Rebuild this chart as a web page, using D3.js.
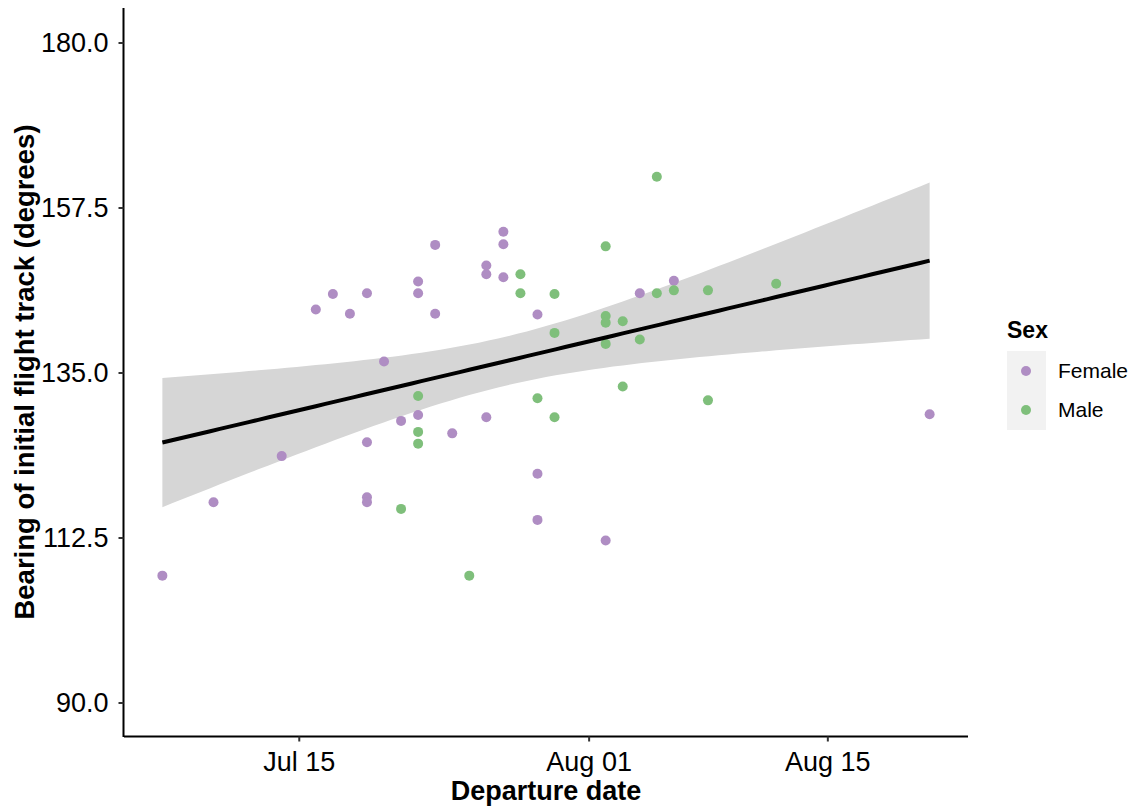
<!DOCTYPE html>
<html>
<head>
<meta charset="utf-8">
<script src="https://cdn.jsdelivr.net/npm/d3@7"></script>
<style>
	body { margin: 0; background: #fff; }
	text { font-family: "Liberation Sans", Arial, sans-serif; }
</style>
</head>
<body>
<div id="main"></div>
<script>
// departure dates and bearings
var femaleDates = ["07-07", "07-10", "07-14", "07-16", "07-17", "07-18", "07-19", "07-19", "07-19", "07-19",
	"07-20", "07-21", "07-22", "07-22", "07-22", "07-23", "07-23", "07-24", "07-26", "07-26", "07-26",
	"07-27", "07-27", "07-27", "07-29", "07-29", "07-29", "08-02", "08-04", "08-06", "08-21"]
var femaleBearing = [107.3, 117.3, 123.6, 143.6, 145.7, 143.0, 145.8, 125.5, 118.0, 117.3,
	136.5, 128.4, 147.4, 145.8, 129.2, 152.4, 143.0, 126.7, 149.6, 148.4, 128.9,
	154.2, 152.5, 148.0, 142.9, 121.2, 114.9, 112.1, 145.8, 147.5, 129.3]
var maleDates = ["07-21", "07-22", "07-22", "07-22", "07-25", "07-28", "07-28", "07-29", "07-30", "07-30",
	"07-30", "08-02", "08-02", "08-02", "08-02", "08-03", "08-03", "08-04", "08-05", "08-05",
	"08-06", "08-08", "08-08", "08-12"]
var maleBearing = [116.4, 131.8, 126.9, 125.3, 107.3, 148.4, 145.8, 131.5, 145.7, 140.4,
	128.9, 152.2, 142.7, 141.8, 138.9, 142.0, 133.1, 139.5, 161.7, 145.8,
	146.2, 146.2, 131.2, 147.1]
var sexes = ["Female", "Male"]
var sexColors = ["#AF8DC3", "#7FBF7B"]
var xTicks = ["07-15", "08-01", "08-15"]
var yTicks = [90, 112.5, 135, 157.5, 180]

var parseDate = d3.timeParse("%Y-%m-%d")
function toDate(s) { return parseDate("2019-" + s) }

var points = []
for (var i = 0; i < femaleDates.length; i++) {
	points.push({ date: toDate(femaleDates[i]), val: femaleBearing[i], sex: "Female" })
}
for (var i = 0; i < maleDates.length; i++) {
	points.push({ date: toDate(maleDates[i]), val: maleBearing[i], sex: "Male" })
}

var width = 1136, height = 808
var svg = d3.select("#main").append("svg")
	.attr("width", width)
	.attr("height", height)

var DAY = 86400000
var ext = d3.extent(points, function (d) { return d.date })
var pad = (ext[1] - ext[0]) * 0.05
var x = d3.scaleTime()
	.domain([new Date(+ext[0] - pad), new Date(+ext[1] + pad)])
	.range([124, 968])
var y = d3.scaleLinear()
	.domain([85.5, 184.5])
	.range([735.5, 9.5])
var color = d3.scaleOrdinal().domain(sexes).range(sexColors)

// linear fit with 95% confidence band (like geom_smooth(method = "lm"))
var xs = points.map(function (d) { return (d.date - ext[0]) / DAY })
var ys = points.map(function (d) { return d.val })
var n = xs.length
var mx = d3.mean(xs), my = d3.mean(ys)
var sxx = 0, sxy = 0
for (var i = 0; i < n; i++) {
	sxx += (xs[i] - mx) * (xs[i] - mx)
	sxy += (xs[i] - mx) * (ys[i] - my)
}
var slope = sxy / sxx
var icpt = my - slope * mx
var sse = 0
for (var i = 0; i < n; i++) {
	var r = ys[i] - (icpt + slope * xs[i])
	sse += r * r
}
var s = Math.sqrt(sse / (n - 2))
var tq = 2.006
var span = (ext[1] - ext[0]) / DAY
var fit = []
for (var k = 0; k <= 80; k++) {
	var xv = span * k / 80
	var yh = icpt + slope * xv
	var se = s * Math.sqrt(1 / n + (xv - mx) * (xv - mx) / sxx)
	fit.push({ date: new Date(+ext[0] + xv * DAY), fit: yh, lo: yh - tq * se, hi: yh + tq * se })
}

svg.append("path")
	.datum(fit)
	.attr("fill", "#D6D6D6")
	.attr("d", d3.area()
		.x(function (d) { return x(d.date) })
		.y0(function (d) { return y(d.lo) })
		.y1(function (d) { return y(d.hi) }))

svg.selectAll(".pt")
	.data(points)
	.enter().append("circle")
	.attr("class", "pt")
	.attr("cx", function (d) { return x(d.date) })
	.attr("cy", function (d) { return y(d.val) })
	.attr("r", 5)
	.attr("fill", function (d) { return color(d.sex) })

svg.append("path")
	.datum(fit)
	.attr("fill", "none")
	.attr("stroke", "#000")
	.attr("stroke-width", 4)
	.attr("d", d3.line()
		.x(function (d) { return x(d.date) })
		.y(function (d) { return y(d.fit) }))

// axes
var xAxis = svg.append("g")
	.attr("transform", "translate(0,736.5)")
	.call(d3.axisBottom(x)
		.tickValues(xTicks.map(toDate))
		.tickFormat(d3.timeFormat("%b %d"))
		.tickSize(5)
		.tickPadding(10)
		.tickSizeOuter(0))
var yAxis = svg.append("g")
	.attr("transform", "translate(123.5,0)")
	.call(d3.axisLeft(y)
		.tickValues(yTicks)
		.tickFormat(d3.format(".1f"))
		.tickSize(5)
		.tickPadding(10)
		.tickSizeOuter(0))
svg.selectAll(".domain").attr("stroke", "#000").attr("stroke-width", 2)
svg.selectAll(".tick line").attr("stroke", "#333").attr("stroke-width", 2)
svg.selectAll(".tick text")
	.style("font-size", "27px")
	.attr("fill", "#000")
	.style("font-family", "Liberation Sans, Arial, sans-serif")
xAxis.selectAll(".domain").attr("d", "M124,0H968")
yAxis.selectAll(".domain").attr("d", "M0,8V737")

svg.append("text")
	.attr("x", 546)
	.attr("y", 800)
	.style("text-anchor", "middle")
	.style("font-size", "27px")
	.style("font-weight", "bold")
	.text("Departure date")
svg.append("text")
	.attr("transform", "translate(34,372) rotate(-90)")
	.style("text-anchor", "middle")
	.style("font-size", "27.5px")
	.style("font-weight", "bold")
	.text("Bearing of initial flight track (degrees)")

// legend
var legend = svg.append("g")
legend.append("text")
	.attr("x", 1007)
	.attr("y", 338)
	.style("font-size", "23px")
	.style("font-weight", "bold")
	.text("Sex")
legend.append("rect")
	.attr("x", 1007)
	.attr("y", 351)
	.attr("width", 39)
	.attr("height", 79)
	.attr("fill", "#F2F2F2")
legend.selectAll(".key")
	.data(sexes)
	.enter().append("circle")
	.attr("cx", 1026)
	.attr("cy", function (d, i) { return 371 + i * 39 })
	.attr("r", 5)
	.attr("fill", function (d) { return color(d) })
legend.selectAll(".lab")
	.data(sexes)
	.enter().append("text")
	.attr("x", 1058)
	.attr("y", function (d, i) { return 378 + i * 39 })
	.style("font-size", "21px")
	.text(function (d) { return d })
</script>
</body>
</html>
